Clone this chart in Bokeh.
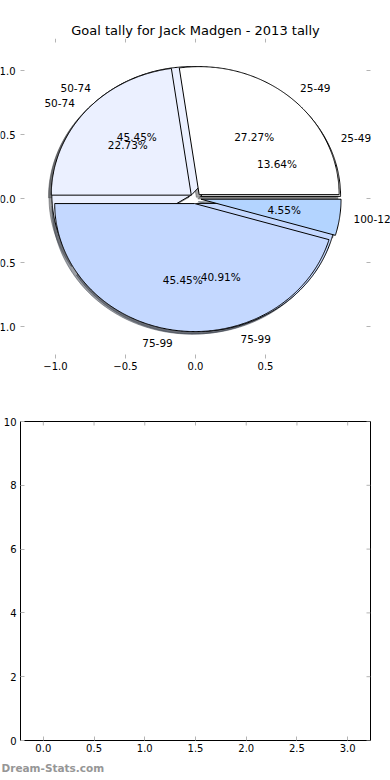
import numpy as np
from bokeh.plotting import figure
from bokeh.models import ColumnDataSource, LabelSet, FixedTicker, Title, Range1d
from bokeh.embed import file_html
from bokeh.resources import INLINE
from bokeh.core.properties import value, field
from bokeh.core.validation import silence
from bokeh.core.validation.warnings import MISSING_RENDERERS

silence(MISSING_RENDERERS, True)

# ---------------- data ----------------
TITLE = "Goal tally for Jack Madgen - 2013 tally"
WATERMARK = "Dream-Stats.com"

# two pies drawn on the same axes (first one underneath)
pie_a_labels = ["25-49", "50-74", "75-99"]
pie_a_pct = [13.64, 45.45, 40.91]
pie_b_labels = ["25-49", "50-74", "75-99", "100-124"]
pie_b_pct = [27.27, 22.73, 45.45, 4.55]

slice_colors = {"25-49": "#ffffff", "50-74": "#ebf0ff", "75-99": "#c4d8ff", "100-124": "#b3d4ff"}

pie_xticks = [-1.0, -0.5, 0.0, 0.5]
pie_xtick_labels = ["\u22121.0", "\u22120.5", "0.0", "0.5"]
pie_yticks = [-1.0, -0.5, 0.0, 0.5, 1.0]
pie_ytick_labels = ["\u22121.0", "\u22120.5", "0.0", "0.5", "1.0"]
PIE_LIM = 1.25  # axes box of the pie panel

empty_xticks = [0.0, 0.5, 1.0, 1.5, 2.0, 2.5, 3.0]
empty_xtick_labels = ["0.0", "0.5", "1.0", "1.5", "2.0", "2.5", "3.0"]
empty_yticks = [0, 2, 4, 6, 8, 10]
empty_ytick_labels = ["0", "2", "4", "6", "8", "10"]
EMPTY_XLIM = (-0.225, 3.225)
EMPTY_YLIM = (0, 10)

EXPLODE = 0.04
SHADOW_DX, SHADOW_DY = -0.02, -0.02
LABEL_DIST, PCT_DIST = 1.1, 0.6

FONT = "DejaVu Sans"
TICK_COLOR = "#b4b4b4"
TICK_LEN = 4  # px

# ---------------- layout (pixels) ----------------
W = 390
P1_H, P2_H = 390, 390
P1_B = dict(left=0, right=0, top=38, bottom=32)
P2_B = dict(left=19, right=20, top=31, bottom=40)
PIE_PX_X, PIE_PX_Y = 140.0, 128.0  # pixels per data unit in the pie panel


def pie_geometry(labels, pcts):
    wedges, texts, pcttexts = [], [], []
    theta1 = 0.0
    for lab, pct in zip(labels, pcts):
        theta2 = theta1 + pct / 100.0 * 360.0
        tm = np.radians(0.5 * (theta1 + theta2))
        cx, cy = EXPLODE * np.cos(tm), EXPLODE * np.sin(tm)
        t = np.radians(np.linspace(theta1, theta2, int(abs(theta2 - theta1)) * 2 + 3))
        xs = [cx] + list(cx + np.cos(t)) + [cx]
        ys = [cy] + list(cy + np.sin(t)) + [cy]
        wedges.append((xs, ys, slice_colors[lab]))
        lx, ly = cx + LABEL_DIST * np.cos(tm), cy + LABEL_DIST * np.sin(tm)
        texts.append((lx, ly, lab, "left" if lx > 0 else "right"))
        pcttexts.append((cx + PCT_DIST * np.cos(tm), cy + PCT_DIST * np.sin(tm), "%.2f%%" % pct))
        theta1 = theta2
    return wedges, texts, pcttexts


def shade(hexcol):
    h = hexcol.lstrip("#")
    r, g, b = (int(h[i:i + 2], 16) for i in (0, 2, 4))
    return "#%02x%02x%02x" % (int(r * 0.3), int(g * 0.3), int(b * 0.3))


def style_axis(ax, ticks, labels, standoff=4):
    ax.ticker = FixedTicker(ticks=ticks)
    ax.major_label_overrides = {t: l for t, l in zip(ticks, labels)}
    ax.axis_line_color = None
    ax.major_tick_in = TICK_LEN
    ax.major_tick_out = 0
    ax.major_tick_line_color = TICK_COLOR
    ax.major_tick_line_width = 1
    ax.minor_tick_line_color = None
    ax.major_label_text_font = FONT
    ax.major_label_text_color = "#000000"
    ax.major_label_text_font_size = "10px"
    ax.major_label_standoff = standoff


def edge_ticks(p, xticks, yticks, x_edge, y_edge, dx, dy):
    """inward tick marks on the top edge (y_edge) and on a side edge (x_edge)"""
    src_t = ColumnDataSource(dict(x0=xticks, y0=[y_edge] * len(xticks),
                                  x1=xticks, y1=[y_edge - dy] * len(xticks)))
    p.segment("x0", "y0", "x1", "y1", source=src_t, line_color=TICK_COLOR, line_width=1)
    src_r = ColumnDataSource(dict(x0=[x_edge] * len(yticks), y0=yticks,
                                  x1=[x_edge + dx] * len(yticks), y1=yticks))
    p.segment("x0", "y0", "x1", "y1", source=src_r, line_color=TICK_COLOR, line_width=1)


# ---------------- top: pie ----------------
fw1 = W - P1_B["left"] - P1_B["right"]
fh1 = P1_H - P1_B["top"] - P1_B["bottom"]
x_half = fw1 / 2.0 / PIE_PX_X
y_half = fh1 / 2.0 / PIE_PX_Y
p1 = figure(width=W, height=P1_H, output_backend="svg", toolbar_location=None,
            x_range=Range1d(-x_half, x_half), y_range=Range1d(-y_half, y_half),
            y_axis_location=None,
            min_border_left=P1_B["left"], min_border_right=P1_B["right"],
            min_border_top=P1_B["top"], min_border_bottom=P1_B["bottom"])
p1.outline_line_color = None
p1.grid.visible = False
p1.background_fill_color = "white"
p1.border_fill_color = "white"

p1.title.text = TITLE
p1.title.align = "center"
p1.title.text_font = FONT
p1.title.text_font_size = "13px"
p1.title.text_font_style = "normal"
p1.title.text_color = "#000000"
p1.title.standoff = 2

style_axis(p1.xaxis[0], pie_xticks, pie_xtick_labels, standoff=3)

geo_a = pie_geometry(pie_a_labels, pie_a_pct)
geo_b = pie_geometry(pie_b_labels, pie_b_pct)

# shadows (all below the wedges)
sh = dict(xs=[], ys=[], c=[])
for wedges, _, _ in (geo_a, geo_b):
    for xs, ys, col in wedges:
        sh["xs"].append([x + SHADOW_DX for x in xs])
        sh["ys"].append([y + SHADOW_DY for y in ys])
        sh["c"].append(shade(col))
p1.patches("xs", "ys", source=ColumnDataSource(sh), fill_color="c", line_color="c",
           fill_alpha=0.5, line_alpha=0.5, line_width=1)

for wedges, _, _ in (geo_a, geo_b):
    src = ColumnDataSource(dict(xs=[w[0] for w in wedges], ys=[w[1] for w in wedges],
                                c=[w[2] for w in wedges]))
    p1.patches("xs", "ys", source=src, fill_color="c", line_color="black", line_width=1)

lab = dict(x=[], y=[], text=[], halign=[])
pct = dict(x=[], y=[], text=[])
for _, texts, pcttexts in (geo_a, geo_b):
    for x, y, t, a in texts:
        lab["x"].append(x); lab["y"].append(y); lab["text"].append(t); lab["halign"].append(a)
    for x, y, t in pcttexts:
        pct["x"].append(x); pct["y"].append(y); pct["text"].append(t)

p1.add_layout(LabelSet(x="x", y="y", text="text", source=ColumnDataSource(lab),
                       text_align=field("halign"), text_baseline="middle",
                       text_font=value(FONT), text_font_size="10.5px", text_color="#000000"))
p1.add_layout(LabelSet(x="x", y="y", text="text", source=ColumnDataSource(pct),
                       text_align="center", text_baseline="middle",
                       text_font=value(FONT), text_font_size="10.5px", text_color="#000000"))

# pie panel box ticks: top, right, left (the left ones carry the y labels)
edge_ticks(p1, pie_xticks, pie_yticks, PIE_LIM, PIE_LIM, -TICK_LEN / PIE_PX_X, TICK_LEN / PIE_PX_Y)
src_l = ColumnDataSource(dict(x0=[-PIE_LIM] * len(pie_yticks), y0=pie_yticks,
                              x1=[-PIE_LIM + TICK_LEN / PIE_PX_X] * len(pie_yticks), y1=pie_yticks))
p1.segment("x0", "y0", "x1", "y1", source=src_l, line_color=TICK_COLOR, line_width=1)
ylab = ColumnDataSource(dict(x=[-PIE_LIM - 5 / PIE_PX_X] * len(pie_yticks), y=pie_yticks,
                             text=pie_ytick_labels))
p1.add_layout(LabelSet(x="x", y="y", text="text", source=ylab, text_align="right",
                       text_baseline="middle", text_font=value(FONT), text_font_size="10px",
                       text_color="#000000"))

# ---------------- bottom: empty axes ----------------
p2 = figure(width=W, height=P2_H, output_backend="svg", toolbar_location=None,
            x_range=Range1d(*EMPTY_XLIM), y_range=Range1d(*EMPTY_YLIM),
            min_border_left=P2_B["left"], min_border_right=P2_B["right"],
            min_border_top=P2_B["top"], min_border_bottom=P2_B["bottom"])
p2.outline_line_color = "black"
p2.outline_line_width = 1
p2.grid.visible = False
p2.background_fill_color = "white"
p2.border_fill_color = "white"
style_axis(p2.xaxis[0], empty_xticks, empty_xtick_labels, standoff=3)
style_axis(p2.yaxis[0], empty_yticks, empty_ytick_labels, standoff=4)

fw2 = W - P2_B["left"] - P2_B["right"]
fh2 = P2_H - P2_B["top"] - P2_B["bottom"]
px2 = fw2 / (EMPTY_XLIM[1] - EMPTY_XLIM[0])
py2 = fh2 / (EMPTY_YLIM[1] - EMPTY_YLIM[0])
edge_ticks(p2, empty_xticks, empty_yticks, EMPTY_XLIM[1], EMPTY_YLIM[1],
           -TICK_LEN / px2, TICK_LEN / py2)

wm = Title(text=WATERMARK, align="left", offset=-P2_B["left"], standoff=11,
           text_font=FONT, text_font_size="10.5px", text_font_style="bold",
           text_color="#969696")
p2.add_layout(wm, "below")

# two independent roots stacked on the page (keeps each panel's own frame)
open("out.html", "w").write(file_html([p1, p2], INLINE))
